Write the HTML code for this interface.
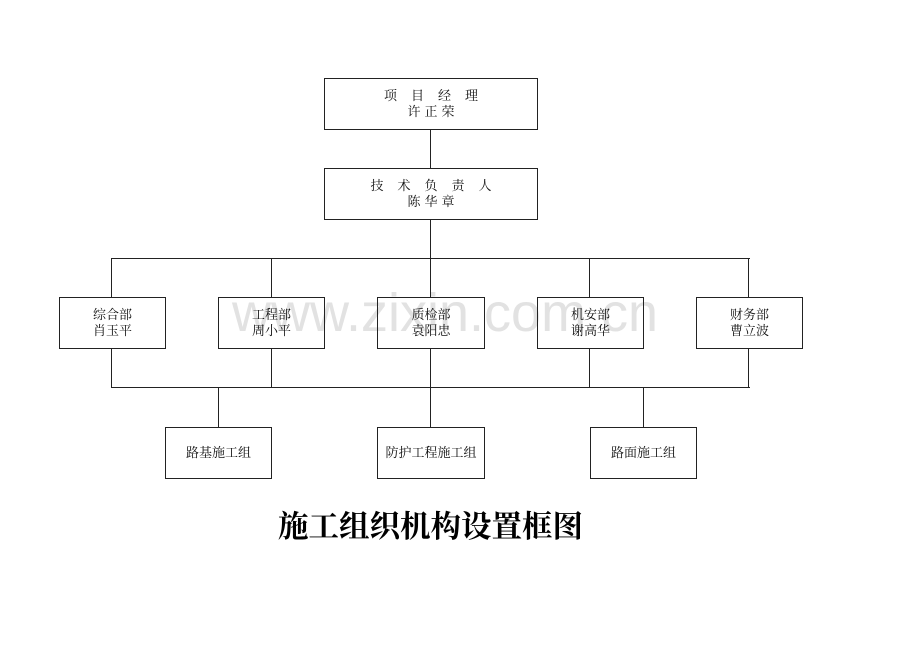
<!DOCTYPE html>
<html><head><meta charset="utf-8"><style>
body{margin:0;width:920px;height:651px;background:#fff;position:relative;overflow:hidden;font-family:"Liberation Serif","Noto Serif CJK SC",serif}
.b{position:absolute;border:1.3px solid #222;box-sizing:border-box;display:flex;flex-direction:column;align-items:center;justify-content:center;font-size:13px;line-height:16px;color:#111;text-align:center}
.l{position:absolute;background:#222}
.wm{position:absolute;left:232px;top:282px;font:54px "Liberation Sans",sans-serif;color:#e2e2e2;letter-spacing:0px}
</style></head><body>
<div class="wm">www.zixin.com.cn</div>
<div class="l" style="left:430px;top:129px;width:1.3px;height:40px"></div>
<div class="l" style="left:430px;top:219px;width:1.3px;height:39px"></div>
<div class="l" style="left:112px;top:258px;width:638px;height:1.3px"></div>
<div class="l" style="left:112px;top:387px;width:638px;height:1.3px"></div>
<div class="l" style="left:111px;top:258px;width:1.3px;height:40px"></div>
<div class="l" style="left:271px;top:258px;width:1.3px;height:40px"></div>
<div class="l" style="left:430px;top:258px;width:1.3px;height:40px"></div>
<div class="l" style="left:589px;top:258px;width:1.3px;height:40px"></div>
<div class="l" style="left:748px;top:258px;width:1.3px;height:40px"></div>
<div class="l" style="left:111px;top:348px;width:1.3px;height:40px"></div>
<div class="l" style="left:271px;top:348px;width:1.3px;height:40px"></div>
<div class="l" style="left:430px;top:348px;width:1.3px;height:80px"></div>
<div class="l" style="left:589px;top:348px;width:1.3px;height:40px"></div>
<div class="l" style="left:748px;top:348px;width:1.3px;height:40px"></div>
<div class="l" style="left:218px;top:387px;width:1.3px;height:40px"></div>
<div class="l" style="left:643px;top:387px;width:1.3px;height:40px"></div>
<div class="b" style="left:324px;top:78px;width:214px;height:52px"><div style="letter-spacing:14px;margin-left:14px">项目经理</div><div style="letter-spacing:4px;margin-left:4px">许正荣</div></div>
<div class="b" style="left:324px;top:168px;width:214px;height:52px"><div style="letter-spacing:14px;margin-left:14px">技术负责人</div><div style="letter-spacing:4px;margin-left:4px">陈华章</div></div>
<div class="b" style="left:59px;top:297px;width:107px;height:52px"><div>综合部</div><div>肖玉平</div></div>
<div class="b" style="left:218px;top:297px;width:107px;height:52px"><div>工程部</div><div>周小平</div></div>
<div class="b" style="left:377px;top:297px;width:108px;height:52px"><div>质检部</div><div>袁阳忠</div></div>
<div class="b" style="left:537px;top:297px;width:107px;height:52px"><div>机安部</div><div>谢高华</div></div>
<div class="b" style="left:696px;top:297px;width:107px;height:52px"><div>财务部</div><div>曹立波</div></div>
<div class="b" style="left:165px;top:427px;width:107px;height:52px">路基施工组</div>
<div class="b" style="left:377px;top:427px;width:108px;height:52px">防护工程施工组</div>
<div class="b" style="left:590px;top:427px;width:107px;height:52px">路面施工组</div>
<div style="position:absolute;left:0;width:861px;top:507px;text-align:center;font-size:30.5px;font-weight:bold;line-height:40px;color:#000">施工组织机构设置框图</div>
</body></html>
